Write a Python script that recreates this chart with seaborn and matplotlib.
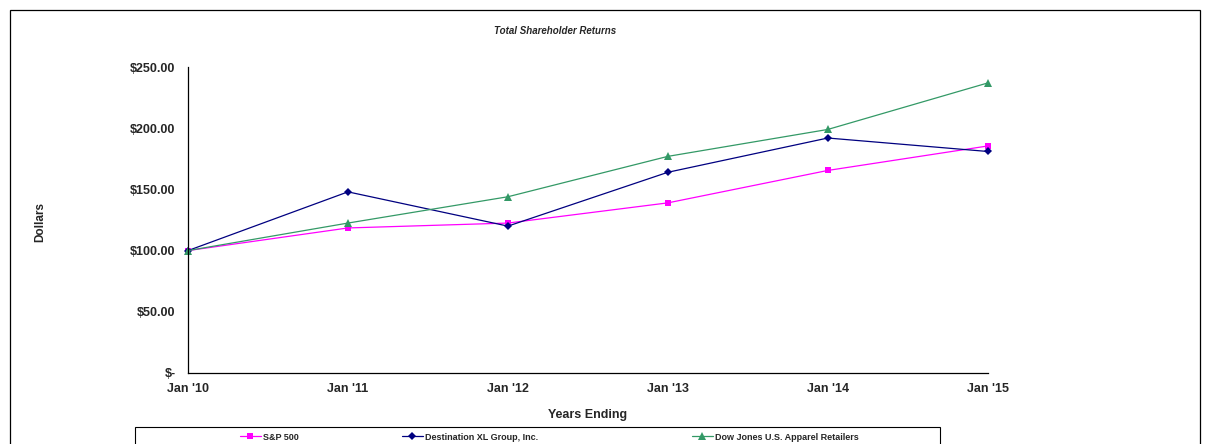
import pandas as pd
import matplotlib
matplotlib.use("Agg")
import matplotlib.pyplot as plt
import matplotlib.patches as patches
import seaborn as sns

# --- data ---
years = ["Jan '10", "Jan '11", "Jan '12", "Jan '13", "Jan '14", "Jan '15"]
sp500 = [100.0, 118.5, 122.5, 139.0, 165.5, 185.5]
dxl = [100.0, 148.0, 120.0, 164.0, 192.0, 181.0]
dj_apparel = [100.0, 122.5, 144.0, 177.0, 199.0, 237.0]
y_ticks = [0, 50, 100, 150, 200, 250]
y_tick_labels = ["$-", "$50.00", "$100.00", "$150.00", "$200.00", "$250.00"]

series_names = ["S&P 500", "Destination XL Group, Inc.", "Dow Jones U.S. Apparel Retailers"]
series_values = [sp500, dxl, dj_apparel]

sns.set_style("white")
plt.rcParams['font.family'] = ['Liberation Sans', 'DejaVu Sans']

fig = plt.figure(figsize=(12.09, 4.44), dpi=100)
ax = fig.add_axes([0.1555, 0.160, 0.6615, 0.689])

colors = ["#FF00FF", "#000080", "#339966"]
markers = ["s", "D", "^"]
msizes = [5, 4.2, 5.5]

# one lineplot per series so each keeps its own marker size
handles = []
for name, vals, c, m, ms in zip(series_names, series_values, colors, markers, msizes):
    sns.lineplot(x=list(range(len(years))), y=vals, color=c, marker=m, label=name,
                 markersize=ms, markeredgewidth=0, linewidth=0.9, ax=ax)
    line = ax.lines[-1]
    line.set_clip_on(False)
    handles.append(line)
if ax.get_legend() is not None:
    ax.get_legend().remove()

ax.set_xlim(0, len(years) - 1)
ax.set_ylim(0, 250)
ax.set_xticks(range(len(years)))
ax.set_xticklabels(years, fontsize=9, fontweight='bold')
ax.set_yticks(y_ticks)
ax.set_yticklabels(y_tick_labels, fontsize=9, fontweight='bold')
ax.tick_params(axis='y', direction='out', length=4, width=0.8, pad=5)
ax.tick_params(axis='x', direction='inout', length=6, width=0.8, pad=4)
for side in ['top', 'right']:
    ax.spines[side].set_visible(False)
for side in ['left', 'bottom']:
    ax.spines[side].set_color('black')
    ax.spines[side].set_linewidth(0.9)

ax.set_xlabel("Years Ending", fontsize=9, fontweight='bold', labelpad=10)
ax.set_ylabel("")
fig.text(40 / 1209, 1 - 222 / 444, "Dollars", rotation=90, fontsize=8.5,
         fontweight='bold', ha='center', va='center')
fig.text(555 / 1209, 1 - 31 / 444, "Total Shareholder Returns", fontsize=7,
         fontweight='bold', fontstyle='italic', ha='center', va='center')

# legend: three single entries inside one box along the bottom
legend_x = [240, 402, 692]
for h, lx in zip(handles, legend_x):
    fig.legend([h], [h.get_label()], loc='center left',
               bbox_to_anchor=(lx / 1209, 1 - 437 / 444),
               frameon=False, borderpad=0, borderaxespad=0,
               handlelength=2.3, handletextpad=0.3,
               prop={'weight': 'bold', 'size': 6.5})

fig.patches.append(patches.Rectangle((135 / 1209, -0.05), 805 / 1209, 0.05 + 17 / 444,
                                     transform=fig.transFigure, fill=False,
                                     edgecolor='black', linewidth=0.8))

# outer chart border
fig.patches.append(patches.Rectangle((10 / 1209, -0.05), 1190 / 1209, 1.05 - 10 / 444,
                                     transform=fig.transFigure, fill=False,
                                     edgecolor='black', linewidth=0.9))

fig.savefig("out.png", dpi=100)
